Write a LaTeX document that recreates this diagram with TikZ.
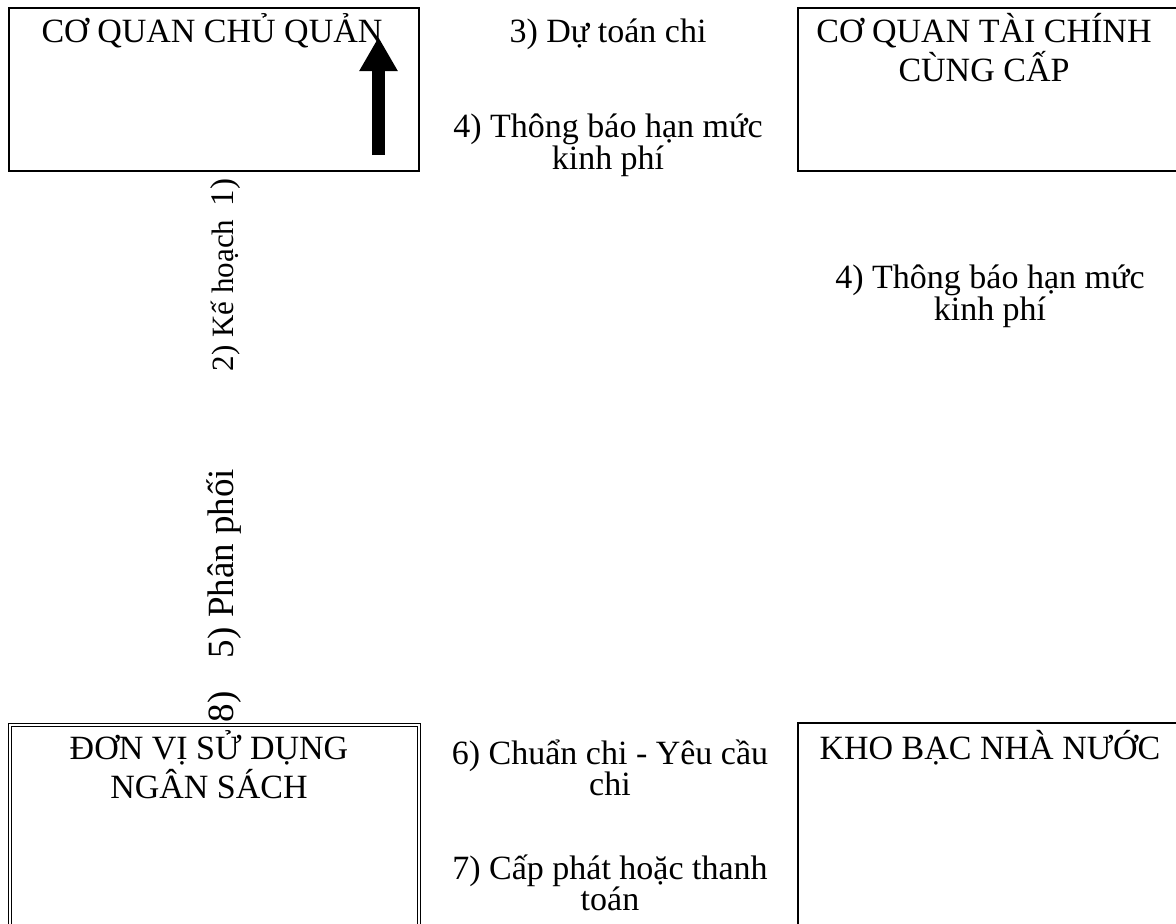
\documentclass[tikz,border=0pt]{standalone}
\usepackage{fontspec}
\setmainfont{Liberation Serif}
\usetikzlibrary{arrows.meta}

\begin{document}
\begin{tikzpicture}[x=1pt,y=-1pt]
\tikzstyle{every node}=[inner sep=0pt, outer sep=0pt]
\tikzstyle{box}=[draw, line width=2.2pt, anchor=north west]
\tikzstyle{dbox}=[draw, double, line width=1pt, double distance=2pt, anchor=north west]
\tikzstyle{title}=[anchor=base, align=center, font=\fontsize{34}{39}\selectfont]
\tikzstyle{lbl}=[anchor=base, align=center, font=\fontsize{34}{31}\selectfont]
\tikzstyle{vlbl}=[anchor=base west, rotate=90, font=\fontsize{37}{37}\selectfont]
\useasboundingbox (0,0) rectangle (1176,924);
% the four offices (base = last line)
\draw (9,8) node (chuquan) [box, minimum width=410pt, minimum height=163pt] {};
\draw (798,8) node (taichinh) [box, minimum width=400pt, minimum height=163pt] {};
\draw (10,725) node (donvi) [dbox, minimum width=408.5pt, minimum height=220pt] {};
\draw (798,723) node (khobac) [box, minimum width=400pt, minimum height=220pt] {};
\draw (212,42) node (tchuquan) [title] {CƠ QUAN CHỦ QUẢN};
\draw (984,81) node (ttaichinh) [title] {CƠ QUAN TÀI CHÍNH\\CÙNG CẤP};
\draw (209,798) node (tdonvi) [title] {ĐƠN VỊ SỬ DỤNG\\NGÂN SÁCH};
\draw (990,759) node (tkhobac) [title] {KHO BẠC NHÀ NƯỚC};
% flows
\draw (608,42) node (f3) [lbl] {3) Dự toán chi};
\draw (608,169) node (f4a) [lbl, font=\fontsize{34}{27}\selectfont] {4) Thông báo hạn mức\\kinh phí};
\draw (990,320) node (f4b) [lbl, font=\fontsize{34}{32}\selectfont] {4) Thông báo hạn mức\\kinh phí};
\draw (610,795) node (f6) [lbl] {6) Chuẩn chi - Yêu cầu\\chi};
\draw (610,910) node (f7) [lbl] {7) Cấp phát hoặc thanh\\toán};
\draw (233,206) node (f1) [vlbl, font=\fontsize{33}{33}\selectfont] {1)};
\draw (233,371) node (f2) [vlbl, font=\fontsize{31}{31}\selectfont] {2) Kế hoạch};
\draw (233,658) node (f5) [vlbl] {5) Phân phối};
\draw (233,722) node (f8) [vlbl] {8)};
% arrow in the first box
\coordinate (arrfrom) at (378.5,155);
\coordinate (arrto) at (378.5,37);
\draw[line width=13pt, -{Triangle[length=34pt, width=36pt]}] (arrfrom) -- (arrto);
\end{tikzpicture}
\end{document}
